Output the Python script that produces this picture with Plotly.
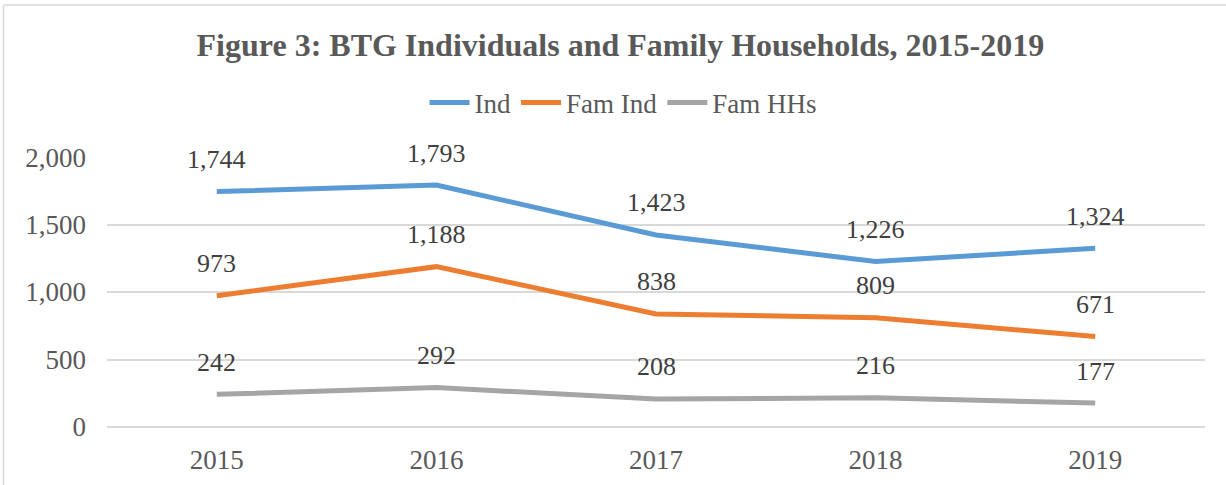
import plotly.graph_objects as go

# Daten
years = ["2015", "2016", "2017", "2018", "2019"]
ind = [1744, 1793, 1423, 1226, 1324]
fam_ind = [973, 1188, 838, 809, 671]
fam_hhs = [242, 292, 208, 216, 177]

series = [
    ("Ind", ind, "#5B9BD5"),
    ("Fam Ind", fam_ind, "#ED7D31"),
    ("Fam HHs", fam_hhs, "#A5A5A5"),
]

fig = go.Figure()

for name, vals, color in series:
    fig.add_trace(go.Scatter(x=years, y=vals, mode="lines", name=name,
                             line=dict(color=color, width=5), cliponaxis=False))

# Datenbeschriftungen ueber den Punkten (x = Index der Kategorie)
for name, vals, color in series:
    for i, v in enumerate(vals):
        fig.add_annotation(x=i, y=v, xref="x", yref="y", text=f"{v:,}", showarrow=False,
                           yshift=32, font=dict(size=26, color="#404040"))

# Rahmen des Diagramms (links und oben)
fig.add_shape(type="line", xref="paper", yref="paper", x0=-0.0943, x1=-0.0943, y0=1.563, y1=-0.3,
              line=dict(color="#D9D9D9", width=1.5))
fig.add_shape(type="line", xref="paper", yref="paper", x0=-0.0943, x1=1.2, y0=1.563, y1=1.563,
              line=dict(color="#D9D9D9", width=1.5))

fig.update_layout(
    width=1226, height=485,
    margin=dict(l=107, r=21, t=157, b=58, autoexpand=False),
    paper_bgcolor="white", plot_bgcolor="white",
    font=dict(family="Liberation Serif, Times New Roman, serif", color="#595959"),
    title=dict(text="<b>Figure 3: BTG Individuals and Family Households, 2015-2019</b>",
               x=0.506, xanchor="center", y=0.907, yanchor="middle",
               font=dict(size=32, color="#595959")),
    legend=dict(orientation="h", x=0.47, xanchor="center", y=1.2, yanchor="middle",
                font=dict(size=27, color="#595959"), itemwidth=40),
    xaxis=dict(type="category", showgrid=False, showline=False, ticks="", range=[-0.5, 4.5],
               ticklabelstandoff=14, tickfont=dict(size=27, color="#595959")),
    yaxis=dict(range=[0, 2000.5], tickvals=[0, 500, 1000, 1500, 2000], tickformat=",",
               showgrid=True, gridcolor="#D9D9D9", gridwidth=1.5,
               zeroline=True, zerolinecolor="#D9D9D9", zerolinewidth=1.5,
               showline=False, ticks="", ticklabelstandoff=20,
               tickfont=dict(size=27, color="#595959")),
)

# Seitenrand entfernen, damit die Figur bei 0,0 beginnt
fig.write_html("out.html", config={"displayModeBar": False},
               post_script="document.body.style.margin='0';")
